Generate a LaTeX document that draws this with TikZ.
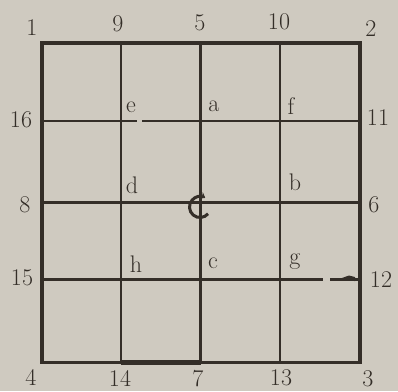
\documentclass[tikz,border=0pt]{standalone}
\usetikzlibrary{arrows.meta}
\definecolor{paper}{RGB}{207,202,192}
\definecolor{ink}{RGB}{52,46,40}
\begin{document}
\begin{tikzpicture}[x=1pt,y=-1pt,
  border/.style={line width=3.2pt, draw=ink, line join=miter},
  gridln/.style={line width=2.5pt, draw=ink},
  lbl/.style={font=\fontsize{24}{24}\selectfont, text=ink, inner sep=0pt}]
\fill[paper] (0,0) rectangle (398,391);
\useasboundingbox (0,0) rectangle (398,391);
% grid corners
\coordinate (c1) at (42,43);
\coordinate (c2) at (360,43);
\coordinate (c3) at (360,362.5);
\coordinate (c4) at (42,362.5);
% inner grid lines
\draw[gridln] (121,43) -- (121,362);
\draw[gridln] (200.5,43) -- (200.5,362);
\draw[gridln] (280,43) -- (280,362);
\draw[gridln] (42,121) -- (137,121);
\draw[gridln] (142,121) -- (360,121);
\draw[gridln] (42,202.5) -- (360,202.5);
\draw[gridln] (42,279.5) -- (323,279.5);
\draw[gridln] (330,279.5) -- (360,279.5);
\fill[ink] (334,280.8) -- (349,275.5) -- (355,277) -- (355,281) -- cycle;
% border
\draw[border] (c1) -- (c2) -- (c3) -- (c4) -- cycle;
\draw[ink, line width=3.8pt] (c2) -- (c3);
\draw[ink, line width=4.6pt] (121,362.5) -- (200.5,362.5);
% rotation sign
\draw[ink, line width=3pt, -{Stealth[length=5pt,width=7.5pt]}]
  (208.04,213.75) arc[start angle=40, end angle=300, radius=10.5];
% outer labels
\node[lbl] (n1) at (32,28) {1};
\node[lbl] (n9) at (118,24) {9};
\node[lbl] (n5) at (200,23) {5};
\node[lbl] (n10) at (279,22) {10};
\node[lbl] (n2) at (371,29) {2};
\node[lbl] (n16) at (21,120) {16};
\node[lbl] (n11) at (378,118) {11};
\node[lbl] (n8) at (25,205) {8};
\node[lbl] (n6) at (374,205) {6};
\node[lbl] (n15) at (22,278) {15};
\node[lbl] (n12) at (381,280) {12};
\node[lbl] (n4) at (31,377) {4};
\node[lbl] (n14) at (120,378) {14};
\node[lbl] (n7) at (198,379) {7};
\node[lbl] (n13) at (281,378) {13};
\node[lbl] (n3) at (368,379) {3};
% inner letters
\node[lbl] (le) at (131,107) {e};
\node[lbl] (la) at (214,106) {a};
\node[lbl] (lf) at (291,106) {f};
\node[lbl] (ld) at (132,185) {d};
\node[lbl] (lb) at (295,182) {b};
\node[lbl] (lh) at (136,264) {h};
\node[lbl] (lc) at (213,263) {c};
\node[lbl] (lg) at (295,262) {g};
\end{tikzpicture}
\end{document}
